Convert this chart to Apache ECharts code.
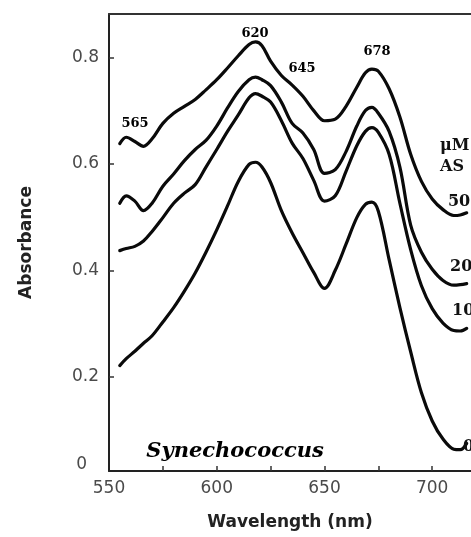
<!DOCTYPE html>
<html>
<head>
<meta charset="utf-8">
<script src="https://cdn.jsdelivr.net/npm/echarts@6/dist/echarts.min.js"></script>
<style>
html,body{margin:0;padding:0;background:#fff;}
#chart{width:471px;height:537px;}
</style>
</head>
<body>
<div id="chart"></div>
<script>
// Wavelength (nm) sampling points
const wavelengths = [555, 558, 562, 566, 570, 575, 580, 585, 590, 595, 600, 605, 610, 615, 618, 621, 625, 630, 635, 640, 645, 650, 655, 660, 665, 669, 672, 675, 680, 685, 690, 695, 700, 705, 710, 713, 716];
// Absorbance for each AS concentration (µM)
const as50 = [0.638,0.650,0.642,0.633,0.647,0.676,0.695,0.708,0.721,0.739,0.758,0.780,0.803,0.824,0.829,0.822,0.793,0.766,0.748,0.727,0.700,0.681,0.684,0.708,0.744,0.771,0.778,0.774,0.741,0.688,0.618,0.567,0.534,0.514,0.503,0.504,0.508];
const as20 = [0.526,0.540,0.530,0.512,0.526,0.558,0.581,0.606,0.627,0.644,0.671,0.705,0.736,0.758,0.763,0.758,0.747,0.716,0.676,0.658,0.627,0.582,0.589,0.623,0.671,0.700,0.706,0.695,0.661,0.594,0.485,0.434,0.402,0.381,0.372,0.373,0.375];
const as10 = [0.437,0.441,0.445,0.455,0.473,0.499,0.526,0.545,0.561,0.594,0.627,0.661,0.692,0.724,0.732,0.727,0.716,0.681,0.639,0.610,0.569,0.530,0.540,0.586,0.634,0.661,0.668,0.659,0.618,0.526,0.439,0.371,0.328,0.301,0.287,0.286,0.291];
const as0  = [0.221,0.234,0.248,0.263,0.277,0.303,0.330,0.361,0.395,0.434,0.476,0.521,0.567,0.599,0.603,0.594,0.565,0.512,0.470,0.433,0.396,0.366,0.400,0.449,0.499,0.524,0.528,0.511,0.420,0.330,0.247,0.170,0.117,0.083,0.064,0.063,0.075];

// Axis ranges and ticks
const xRange = [550, 718];
const xLabelValues = [550, 600, 650, 700];
const xTickValues = [575, 600, 625, 650, 675, 700];
const yRange = [0.023, 0.8815];
const yLabelValues = [0.023, 0.2, 0.4, 0.6, 0.8];
const yTickValues = [0.2, 0.4, 0.6, 0.8];

// Peak annotations [nm, absorbance, text]
const peakLabels = [[617.8, 0.844, '620'], [639.6, 0.778, '645'], [674.4, 0.810, '678'], [562.1, 0.675, '565']];
// Concentration labels at right [nm, absorbance, text]
const concLabels = [[703.6, 0.634, 'μM'], [703.6, 0.594, 'AS'], [707.3, 0.528, '50'], [708.3, 0.406, '20'], [709.2, 0.324, '10'], [714.3, 0.068, '0']];
const organism = [[608.5, 0.059, 'Synechococcus']];

function pairs(ys) { return wavelengths.map((w, i) => [w, ys[i]]); }

const lineStyle = { color: '#0a0a0a', width: 3.2, cap: 'round', join: 'round' };
function curve(name, ys) {
  return { name: name, type: 'line', data: pairs(ys), smooth: 0.35, showSymbol: false, symbol: 'none', lineStyle: lineStyle, z: 3 };
}
function textSeries(list, labelStyle) {
  return {
    type: 'scatter', symbolSize: 0, silent: true, z: 4,
    itemStyle: { opacity: 1 },
    data: list.map(p => ({ value: [p[0], p[1]], name: p[2] })),
    label: Object.assign({ show: true, position: 'inside', formatter: '{b}', opacity: 1 }, labelStyle)
  };
}

const chart = echarts.init(document.getElementById('chart'), null, { renderer: 'canvas' });
chart.setOption({
  animation: false,
  backgroundColor: '#fff',
  grid: { left: 109, right: 0, top: 14, bottom: 66, containLabel: false },
  xAxis: [{
    type: 'value', min: xRange[0], max: xRange[1], position: 'bottom',
    name: 'Wavelength (nm)', nameLocation: 'middle', nameGap: 43,
    nameTextStyle: { fontFamily: 'DejaVu Sans', fontWeight: 'bold', fontSize: 17, color: '#222' },
    axisLine: { show: true, lineStyle: { color: '#222', width: 2 } },
    axisTick: { show: true, inside: true, length: 5, customValues: xTickValues, lineStyle: { color: '#333', width: 1.5 } },
    axisLabel: { customValues: xLabelValues, margin: 9, fontFamily: 'DejaVu Sans', fontSize: 17, color: '#4a4a4a' },
    splitLine: { show: false }
  }, {
    type: 'value', min: xRange[0], max: xRange[1], position: 'top',
    axisLine: { show: true, lineStyle: { color: '#333', width: 2 } },
    axisTick: { show: false }, axisLabel: { show: false }, splitLine: { show: false }
  }],
  yAxis: {
    type: 'value', min: yRange[0], max: yRange[1],
    name: 'Absorbance', nameLocation: 'middle', nameGap: 74, nameRotate: 90,
    nameTextStyle: { fontFamily: 'DejaVu Sans', fontWeight: 'bold', fontSize: 17, color: '#222' },
    axisLine: { show: true, lineStyle: { color: '#222', width: 2 } },
    axisTick: { show: true, inside: true, length: 5, customValues: yTickValues, lineStyle: { color: '#333', width: 1.5 } },
    axisLabel: {
      customValues: yLabelValues, margin: 10, fontFamily: 'DejaVu Sans', fontSize: 17, color: '#4a4a4a',
      formatter: function (v) { return v < 0.1 ? '{z|0}' : v.toFixed(1); },
      rich: { z: { fontFamily: 'DejaVu Sans', fontSize: 17, color: '#4a4a4a', padding: [0, 12, 12, 0] } }
    },
    splitLine: { show: false }
  },
  series: [
    curve('50', as50),
    curve('20', as20),
    curve('10', as10),
    curve('0', as0),
    textSeries(peakLabels, { fontFamily: 'DejaVu Serif', fontWeight: 'bold', fontSize: 13, color: '#000' }),
    textSeries(concLabels, { align: 'left', fontFamily: 'DejaVu Serif', fontWeight: 'bold', fontSize: 16, color: '#111' }),
    textSeries(organism, { fontFamily: 'DejaVu Serif', fontWeight: 'bold', fontStyle: 'italic', fontSize: 21, color: '#000' })
  ]
});
</script>
</body>
</html>
